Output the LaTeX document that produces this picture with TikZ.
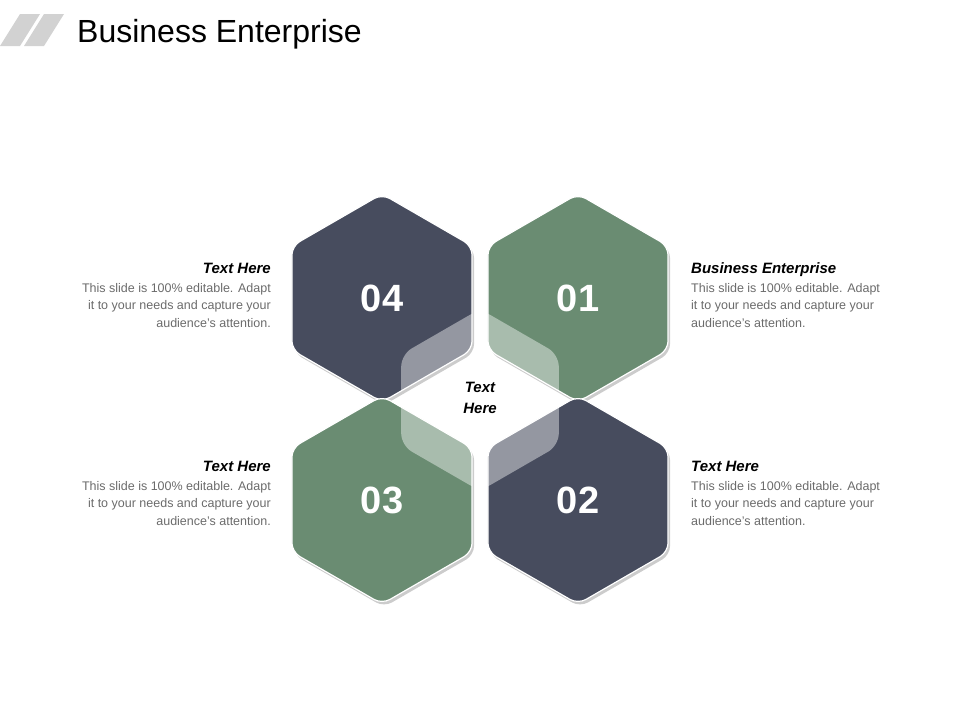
\documentclass[tikz,border=0pt]{standalone}
\usepackage{fontspec}
\usetikzlibrary{calc}
\setmainfont{Liberation Sans}
\definecolor{dk}{HTML}{474C5E}
\definecolor{gr}{HTML}{6A8C72}
\definecolor{bodyc}{HTML}{6B6B6B}
\begin{document}
\begin{tikzpicture}[x=1pt,y=-1pt,
  hexs/.style={rounded corners=9pt},
  num/.style={text=white,font=\bfseries\fontsize{38}{40}\selectfont},
  head/.style={font=\bfseries\itshape\fontsize{15}{17}\selectfont,inner sep=0},
  body/.style={font=\fontsize{12.5}{17.5}\selectfont,text=bodyc,inner sep=0}]
\useasboundingbox (0,0) rectangle (960,720);
\newcommand\myhex[3]{($(#1,#2)+(0,-#3)$) -- ($(#1,#2)+(0.866*#3,-0.5*#3)$) -- ($(#1,#2)+(0.866*#3,0.5*#3)$) -- ($(#1,#2)+(0,#3)$) -- ($(#1,#2)+(-0.866*#3,0.5*#3)$) -- ($(#1,#2)+(-0.866*#3,-0.5*#3)$) -- cycle}
% title bars
\fill[gray!35] (0,46) -- (20,14) -- (40,14) -- (20,46) -- cycle;
\fill[gray!35] (24,46) -- (44,14) -- (64,14) -- (44,46) -- cycle;
\node[anchor=base west,inner sep=0,font=\fontsize{32}{36}\selectfont] (title) at (77,42) {Business Enterprise};
% hexagons
\foreach \cx/\cy/\c in {382/298/dk,578/298/gr,382/500/gr,578/500/dk}{
  \fill[black!20,hexs] \myhex{\cx+2}{\cy+3}{104};
  \draw[white,line width=1.2pt,fill=\c,hexs] \myhex{\cx}{\cy}{104};
  \begin{scope}
  \clip[hexs] \myhex{\cx}{\cy}{104};
  \fill[white,opacity=0.42,rounded corners=12pt] \myhex{480}{400}{91};
  \end{scope}
}
\node[num] (n04) at (382,298) {04};
\node[num] (n01) at (578,298) {01};
\node[num] (n03) at (382,500) {03};
\node[num] (n02) at (578,500) {02};
\node[head,align=center,font=\bfseries\itshape\fontsize{15}{21}\selectfont] (ctr) at (480,398) {Text\\Here};
% side texts
\node[head,anchor=base east] (h4) at (271,273) {Text Here};
\node[body,anchor=north east,align=right] (b4) at (271,283) {This slide is 100\% editable. Adapt\\it to your needs and capture your\\audience's attention.};
\node[head,anchor=base west] (h1) at (691,273) {Business Enterprise};
\node[body,anchor=north west,align=left] (b1) at (691,283) {This slide is 100\% editable. Adapt\\it to your needs and capture your\\audience's attention.};
\node[head,anchor=base east] (h3) at (271,471) {Text Here};
\node[body,anchor=north east,align=right] (b3) at (271,481) {This slide is 100\% editable. Adapt\\it to your needs and capture your\\audience's attention.};
\node[head,anchor=base west] (h2) at (691,471) {Text Here};
\node[body,anchor=north west,align=left] (b2) at (691,481) {This slide is 100\% editable. Adapt\\it to your needs and capture your\\audience's attention.};
\end{tikzpicture}
\end{document}
